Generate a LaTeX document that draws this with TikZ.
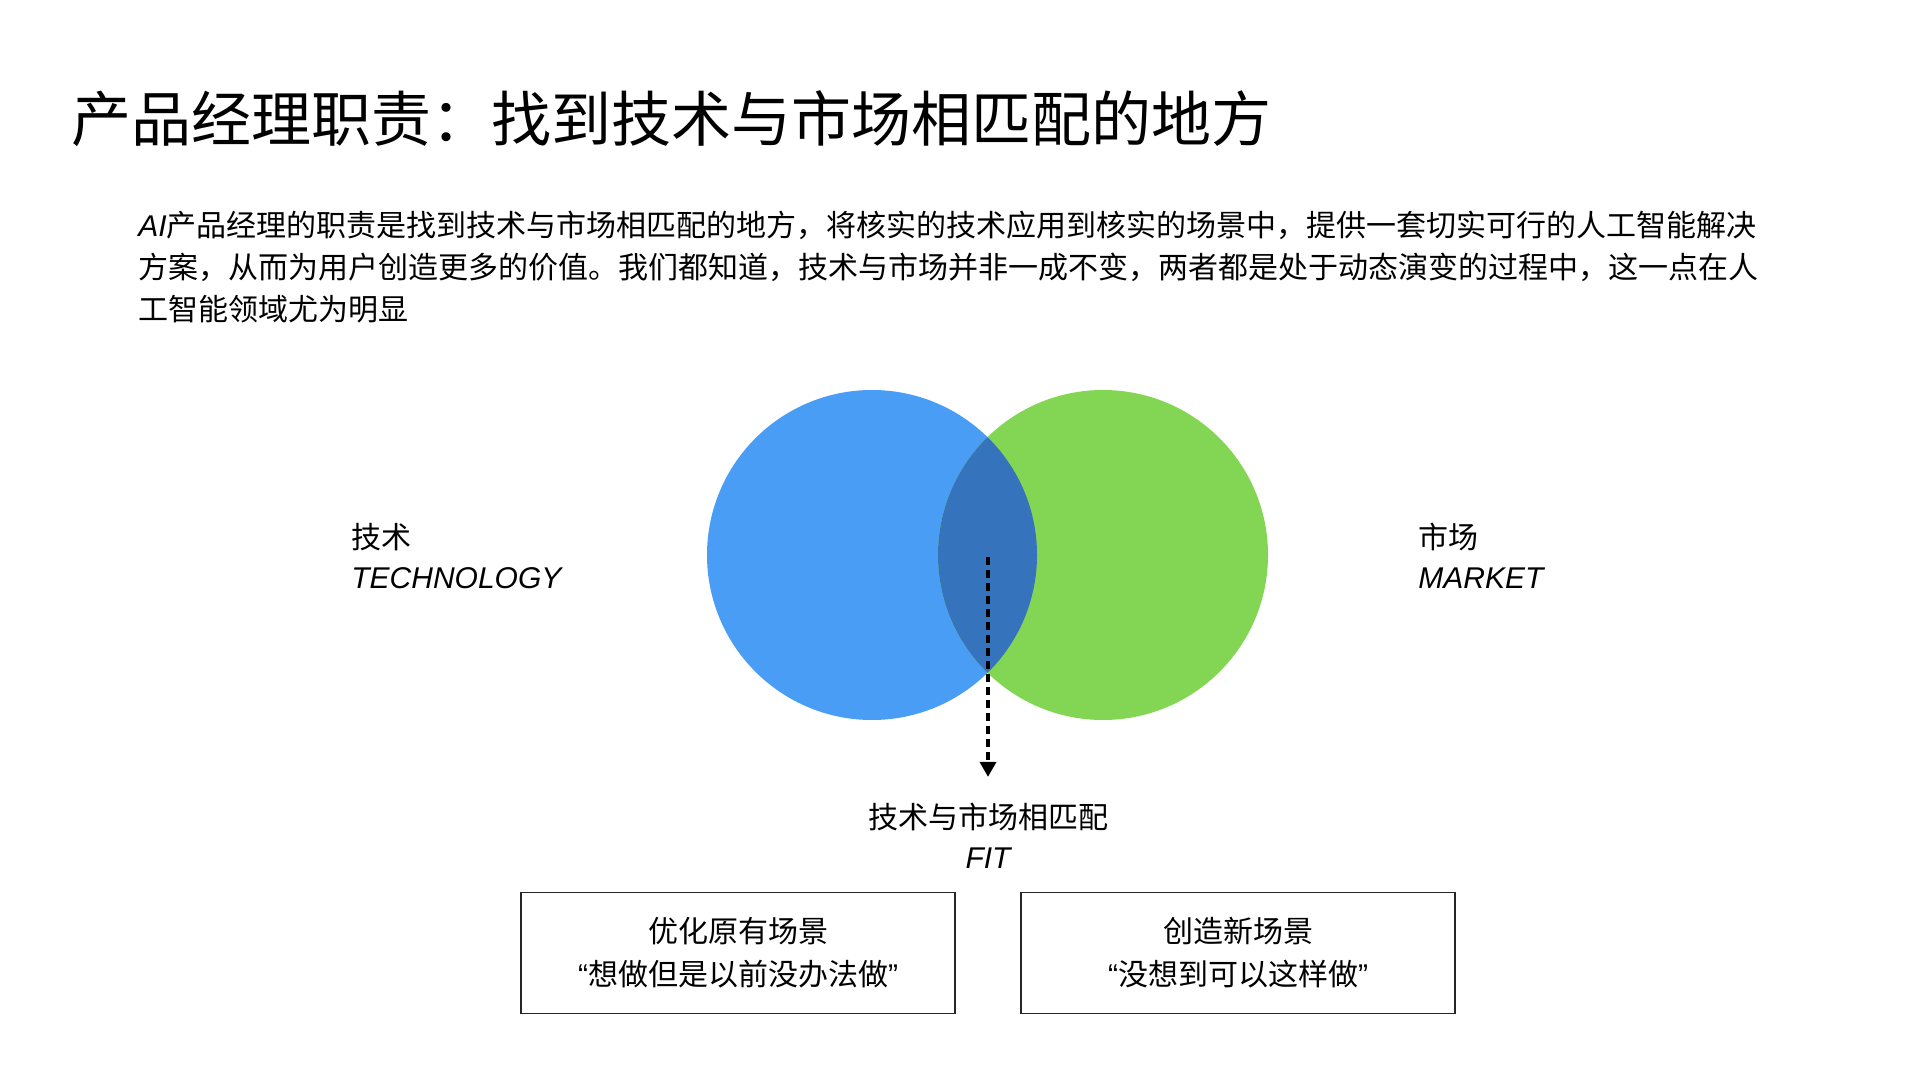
\documentclass[tikz,border=0pt]{standalone}
\usepackage{fontspec}
\setmainfont{Noto Sans CJK SC}
\newfontfamily\lat{Liberation Sans}
\usetikzlibrary{positioning, arrows.meta}

\definecolor{techblue}{RGB}{74,157,245}
\definecolor{marketgreen}{RGB}{131,214,83}
\definecolor{fitblue}{RGB}{53,116,189}

\begin{document}
\begin{tikzpicture}[x=0.5pt, y=-0.5pt,
  titletext/.style={font=\fontsize{30}{36}\selectfont, inner sep=0pt},
  bodytext/.style={font=\fontsize{15}{21}\selectfont, inner sep=0pt},
  sidetext/.style={font=\fontsize{15}{20}\selectfont, inner sep=0pt, align=left, anchor=west},
  scenebox/.style={draw=black!85, line width=0.8pt, minimum width=217pt, minimum height=60.5pt,
    align=center, font=\fontsize{15}{21.5}\selectfont}]
  \useasboundingbox (0,0) rectangle (1920,1080);
  \node[titletext, anchor=west] (title) at (71,119) {产品经理职责：找到技术与市场相匹配的地方};
  \node[bodytext, anchor=north west, align=left] (intro) at (138,211)
    {{\lat\itshape AI}产品经理的职责是找到技术与市场相匹配的地方，将核实的技术应用到核实的场景中，提供一套切实可行的人工智能解决\\
     方案，从而为用户创造更多的价值。我们都知道，技术与市场并非一成不变，两者都是处于动态演变的过程中，这一点在人\\
     工智能领域尤为明显};

  \node[circle, fill=techblue, minimum size=165pt, inner sep=0pt] (tech) at (872,555) {};
  \node[circle, fill=marketgreen, minimum size=165pt, inner sep=0pt] (market) at (1103,555) {};
  \begin{scope}
    \clip (tech.center) circle [radius=82.5pt];
    \fill[fitblue] (market.center) circle [radius=82.5pt];
  \end{scope}
  \coordinate (overlap) at (988,557);

  \node[sidetext] (techlabel) at (351,556) {技术\\{\lat\itshape TECHNOLOGY}};
  \node[sidetext] (marketlabel) at (1418,556) {市场\\{\lat\itshape MARKET}};

  \node[sidetext, anchor=center, align=center] (fit) at (988,836) {技术与市场相匹配\\{\lat\itshape FIT}};
  \draw[line width=1.8pt, dash pattern=on 4pt off 2.5pt, -{Triangle[width=8pt, length=7.5pt]}, shorten >=13pt]
    (overlap) -- (fit.north);

  \node[scenebox] (improve) at (738,953) {优化原有场景\\{\lat “}想做但是以前没办法做{\lat ”}};
  \node[scenebox] (create) at (1238,953) {创造新场景\\{\lat “}没想到可以这样做{\lat ”}};
\end{tikzpicture}
\end{document}
